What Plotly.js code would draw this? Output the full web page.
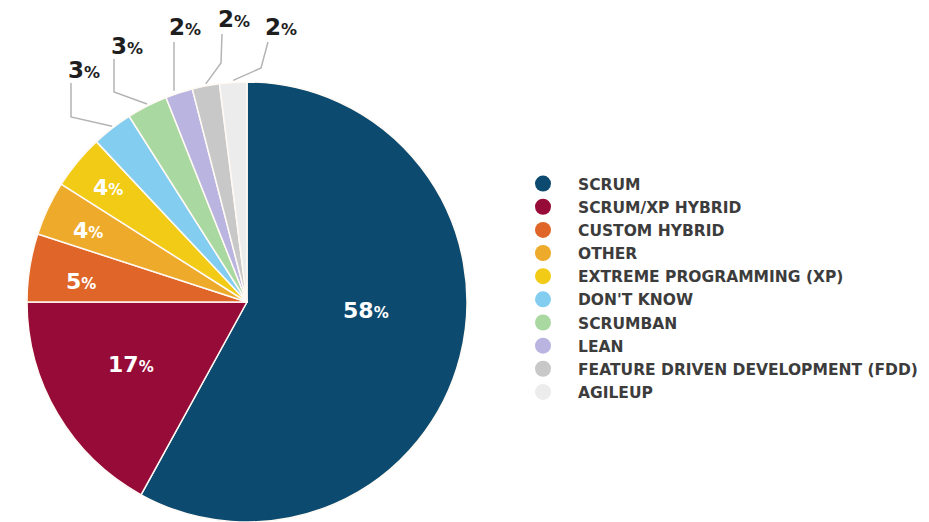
<!DOCTYPE html>
<html>
<head>
<meta charset="utf-8">
<script src="https://cdn.plot.ly/plotly-3.0.1.min.js"></script>
<style>
html,body{margin:0;padding:0;background:#fff;overflow:hidden;}
#chart{width:929px;height:522px;}
</style>
</head>
<body>
<div id="chart"></div>
<script>
// ---- data ----
const labels = ['SCRUM','SCRUM/XP HYBRID','CUSTOM HYBRID','OTHER','EXTREME PROGRAMMING (XP)',"DON'T KNOW",'SCRUMBAN','LEAN','FEATURE DRIVEN DEVELOPMENT (FDD)','AGILEUP'];
const values = [58,17,5,4,4,3,3,2,2,2];
const colors = ['#0d4a6f','#970b38','#df6528','#eeab2b','#f2cb17','#82cdf0','#a9d8a1','#b9b5e0','#c8c8c8','#ececec'];

// ---- layout constants (pixels) ----
const W = 929, H = 522;
const CX = 247, CY = 302, R = 220;
const px = v => v / W;
const py = v => 1 - v / H;

// inside label placement: [radius fraction, fraction through the slice]
const insidePlace = {0:[0.54,0.45],1:[0.60,0.54],2:[0.76,0.39],3:[0.79,0.43],4:[0.82,0.49]};
// outside label placement: label centre, top of leader line, elbow (null = straight)
const outsidePlace = {
  5:{lab:[84,70], top:[71,83], elbow:[71,117]},
  6:{lab:[127,46], top:[114,59], elbow:[114,92]},
  7:{lab:[185,27], top:[174,42], elbow:null},
  8:{lab:[234,19], top:[222,34], elbow:[221,63]},
  9:{lab:[281,27], top:[268,42], elbow:[261,68]}
};

const total = values.reduce((a,b)=>a+b,0);
const annotations = [];
const shapes = [];
let cum = 0;
values.forEach((v,i)=>{
  const a0 = cum/total*360, a1 = (cum+v)/total*360;
  cum += v;
  const pct = Math.round(v/total*100);
  if (insidePlace[i]) {
    const [rf, af] = insidePlace[i];
    const th = (a0 + (a1-a0)*af) * Math.PI/180;
    const x = CX + R*rf*Math.sin(th), y = CY - R*rf*Math.cos(th);
    annotations.push({xref:'paper',yref:'paper',x:px(x),y:py(y),xanchor:'center',yanchor:'middle',showarrow:false,
      text: pct + '<span style="font-size:15px">%</span>',
      font:{family:'DejaVu Sans',size:22,color:'#ffffff',weight:700}});
  } else if (outsidePlace[i]) {
    const o = outsidePlace[i];
    const th = ((a0+a1)/2) * Math.PI/180;
    const rx = CX + R*Math.sin(th), ry = CY - R*Math.cos(th);
    annotations.push({xref:'paper',yref:'paper',x:px(o.lab[0]),y:py(o.lab[1]),xanchor:'center',yanchor:'middle',showarrow:false,
      text: pct + '<span style="font-size:16px">%</span>',
      font:{family:'DejaVu Sans',size:23,color:'#1e1e1e',weight:700}});
    let path = `M${px(o.top[0])},${py(o.top[1])}`;
    if (o.elbow) path += ` L${px(o.elbow[0])},${py(o.elbow[1])}`;
    else path += ` L${px(o.top[0])},${py(ry-2)}`;
    if (o.elbow) path += ` L${px(rx)},${py(ry-2)}`;
    shapes.push({type:'path',xref:'paper',yref:'paper',path:path,line:{color:'#b4b4b4',width:1.5}});
  }
});

const traces = [{
  type:'pie',
  labels: labels,
  values: values,
  sort:false,
  direction:'clockwise',
  rotation:0,
  textinfo:'none',
  hoverinfo:'none',
  showlegend:false,
  marker:{colors: colors, line:{color:'#fffaf4', width:1.5}},
  domain:{x:[px(CX-R), px(CX+R)], y:[py(CY+R), py(CY-R)]}
}];
labels.forEach((l,i)=>{
  traces.push({type:'scatter',mode:'markers',x:[null],y:[null],name:l,legendgroup:'g'+i,
    marker:{color:colors[i],size:16,symbol:'circle'},hoverinfo:'none'});
});

const layout = {
  width:W, height:H,
  margin:{l:0,r:0,t:0,b:0},
  paper_bgcolor:'#ffffff', plot_bgcolor:'rgba(0,0,0,0)',
  xaxis:{visible:false}, yaxis:{visible:false},
  showlegend:true,
  legend:{x:px(508), y:py(167), xanchor:'left', yanchor:'top',
    font:{family:'DejaVu Sans',size:15.5,color:'#3c3c3c',weight:700},
    itemwidth:60, tracegroupgap:0, traceorder:'normal', bgcolor:'rgba(0,0,0,0)'},
  annotations: annotations,
  shapes: shapes
};
Plotly.newPlot('chart', traces, layout, {staticPlot:true, displayModeBar:false});
</script>
</body>
</html>
